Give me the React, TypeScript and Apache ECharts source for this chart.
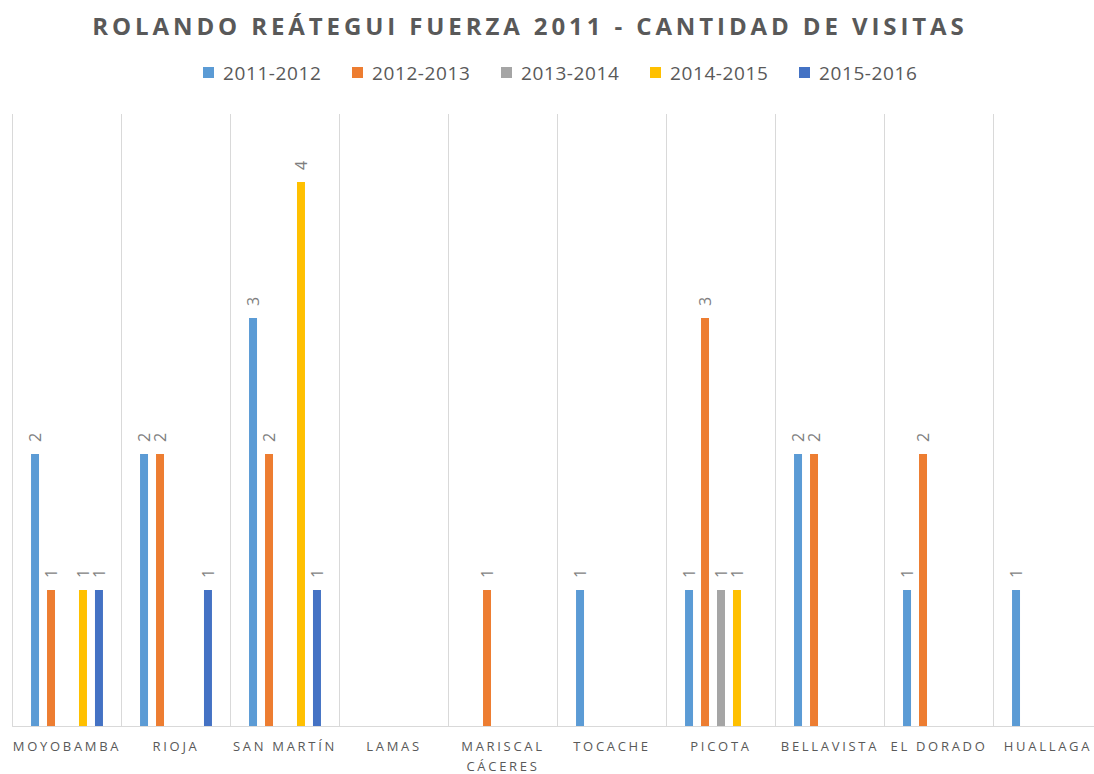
import React, { useEffect, useRef } from "react";
import * as echarts from "echarts";

const TITLE = "ROLANDO REÁTEGUI FUERZA 2011 - CANTIDAD DE VISITAS";
const categories = [
  "MOYOBAMBA",
  "RIOJA",
  "SAN MARTÍN",
  "LAMAS",
  "MARISCAL CÁCERES",
  "TOCACHE",
  "PICOTA",
  "BELLAVISTA",
  "EL DORADO",
  "HUALLAGA",
];
const seriesNames = ["2011-2012", "2012-2013", "2013-2014", "2014-2015", "2015-2016"];
const v20112012 = [2, 2, 3, null, null, 1, 1, 2, 1, 1];
const v20122013 = [1, 2, 2, null, 1, null, 3, 2, 2, null];
const v20132014 = [null, null, null, null, null, null, 1, null, null, null];
const v20142015 = [1, null, 4, null, null, null, 1, null, null, null];
const v20152016 = [1, 1, 1, null, null, null, null, null, null, null];
const seriesValues = [v20112012, v20122013, v20132014, v20142015, v20152016];
const colors = ["#5B9BD5", "#ED7D31", "#A5A5A5", "#FFC000", "#4472C4"];

const FONT = '"Open Sans", "Noto Sans", sans-serif';

function applySpacing(root: HTMLElement) {
  root.querySelectorAll("text").forEach((t) => {
    const s = t.textContent || "";
    let ls = 0;
    if (s === TITLE) ls = 3.9;
    else if (seriesNames.includes(s)) ls = 0.6;
    else if (/^[A-ZÁÉÍÓÚÑ ]+$/.test(s)) ls = 2.7;
    if (ls) t.setAttribute("letter-spacing", ls + "px");
  });
}

export default function App() {
  const ref = useRef<HTMLDivElement>(null);
  useEffect(() => {
    if (!ref.current) return;
    const chart = echarts.init(ref.current, undefined, { renderer: "svg" });
    const legends = seriesNames.map((name, i) => ({
      data: [name],
      left: 203 + i * 149,
      top: 63,
      padding: 0,
      itemWidth: 11,
      itemHeight: 11,
      icon: "rect",
      selectedMode: false,
      textStyle: { color: "#595959", fontSize: 19, fontFamily: FONT, padding: [0, 0, 0, 4] },
    }));
    chart.setOption({
      animation: false,
      backgroundColor: "#ffffff",
      graphic: [
        {
          type: "text",
          x: 530,
          y: 25,
          style: {
            text: TITLE,
            fill: "#595959",
            fontSize: 24,
            fontWeight: "bold",
            fontFamily: FONT,
            align: "center",
            verticalAlign: "middle",
          },
        },
      ],
      legend: legends,
      grid: {
        left: 12.5,
        top: 114,
        width: 1090,
        height: 612,
        containLabel: false,
        outerBoundsMode: "none",
      },
      xAxis: {
        type: "category",
        data: categories,
        axisLine: { show: true, lineStyle: { color: "#D9D9D9", width: 1 } },
        axisTick: { show: false },
        splitLine: { show: true, lineStyle: { color: "#D9D9D9", width: 1 } },
        axisLabel: {
          interval: 0,
          margin: 10,
          color: "#595959",
          fontSize: 13,
          lineHeight: 20,
          fontFamily: FONT,
          hideOverlap: false,
          formatter: (v: string) => (v === "MARISCAL CÁCERES" ? "MARISCAL\nCÁCERES" : v),
        },
      },
      yAxis: {
        type: "value",
        min: 0,
        max: 4.5,
        show: false,
        splitLine: { show: false },
      },
      series: seriesNames.map((name, i) => ({
        name,
        type: "bar",
        data: seriesValues[i],
        itemStyle: { color: colors[i] },
        barGap: "100%",
        barCategoryGap: "34%",
        label: {
          show: true,
          position: "top",
          rotate: 90,
          align: "left",
          verticalAlign: "middle",
          distance: 12,
          color: "#7F7F7F",
          fontSize: 16,
          fontFamily: FONT,
        },
      })),
    });
    applySpacing(ref.current);
    const onFinished = () => ref.current && applySpacing(ref.current);
    chart.on("finished", onFinished);
    return () => {
      chart.off("finished", onFinished);
      chart.dispose();
    };
  }, []);
  return (
    <div
      ref={ref}
      style={{ position: "fixed", left: 0, top: 0, width: 1094, height: 774, background: "#fff" }}
    />
  );
}
